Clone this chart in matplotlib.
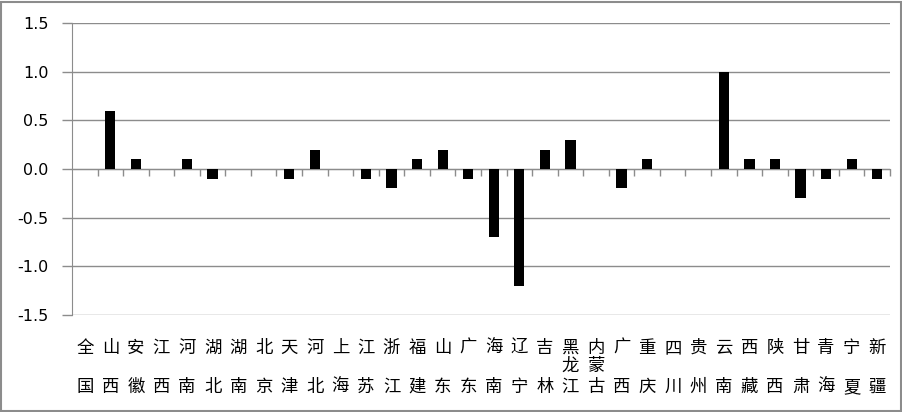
import matplotlib
matplotlib.use("Agg")
import matplotlib.pyplot as plt
from matplotlib.patches import Rectangle
import matplotlib.transforms as mtransforms

plt.rcParams['font.family'] = ['Noto Sans CJK SC', 'DejaVu Sans']

categories = ["全国", "山西", "安徽", "江西", "河南", "湖北", "湖南", "北京", "天津", "河北",
              "上海", "江苏", "浙江", "福建", "山东", "广东", "海南", "辽宁", "吉林", "黑龙江",
              "内蒙古", "广西", "重庆", "四川", "贵州", "云南", "西藏", "陕西", "甘肃", "青海",
              "宁夏", "新疆"]
values = [0.0, 0.6, 0.1, 0.0, 0.1, -0.1, 0.0, 0.0, -0.1, 0.2,
          0.0, -0.1, -0.2, 0.1, 0.2, -0.1, -0.7, -1.2, 0.2, 0.3,
          0.0, -0.2, 0.1, 0.0, 0.0, 1.0, 0.1, 0.1, -0.3, -0.1,
          0.1, -0.1]
yticks = [-1.5, -1.0, -0.5, 0.0, 0.5, 1.0, 1.5]

W, H = 903, 412
fig = plt.figure(figsize=(W / 100, H / 100), dpi=100)
ax = fig.add_axes([72 / W, 1 - 315 / H, (890 - 72) / W, (315 - 23) / H])

gray = '#8c8c8c'
x = list(range(len(categories)))
ax.bar(x, values, width=0.4, color='black', zorder=3)

ax.set_xlim(-0.5, len(categories) - 0.5)
ax.set_ylim(-1.5, 1.5)
ax.set_yticks(yticks)
ax.set_yticklabels([f"{v:.1f}" for v in yticks], fontsize=11.5, family='DejaVu Sans')
ax.yaxis.grid(True, color=gray, linewidth=1.0, zorder=0)
ax.set_axisbelow(True)

for s in ['top', 'right']:
    ax.spines[s].set_visible(False)
ax.spines['left'].set_color(gray)
ax.spines['bottom'].set_position(('data', 0))
ax.spines['bottom'].set_color(gray)

ax.tick_params(axis='y', length=7, color=gray, pad=10, width=1)
ax.set_xticks([i + 0.5 for i in range(len(categories))])
ax.set_xticklabels([])
ax.tick_params(axis='x', length=5, color=gray, width=1, direction='out')

trans = mtransforms.blended_transform_factory(ax.transData, fig.transFigure)
y1 = 1 - 348 / H
y2 = 1 - 387 / H
ym = 1 - 366 / H
for i, name in enumerate(categories):
    if len(name) == 2:
        ys = [y1, y2]
    else:
        ys = [y1, ym, y2]
    for ch, yy in zip(name, ys):
        ax.text(i, yy, ch, transform=trans, ha='center', va='center', fontsize=12.5,
                clip_on=False)

fig.patches.append(Rectangle((1 / W, 1 / H), (W - 3) / W, (H - 3) / H,
                             transform=fig.transFigure, fill=False,
                             edgecolor=gray, linewidth=1.5))

fig.savefig("out.png", dpi=100)
